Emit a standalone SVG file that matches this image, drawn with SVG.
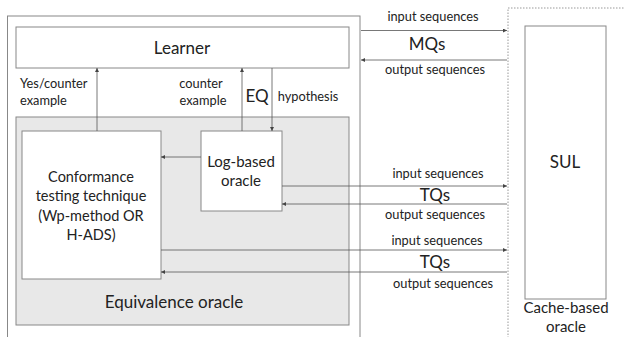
<svg xmlns="http://www.w3.org/2000/svg" width="625" height="337" viewBox="0 0 625 337">
<style>
text{font-family:Lato,"Liberation Sans",sans-serif;fill:#222;text-anchor:middle}
.box{fill:#fff;stroke:#888;stroke-width:1}
.s{font-size:12.8px}
.m{font-size:15px}
.l{font-size:17px}
.c line{stroke:#555;stroke-width:0.8;fill:none}
</style>
<defs>
<marker id="a" viewBox="0 0 6 6" refX="6" refY="3" markerWidth="4" markerHeight="4" orient="auto" markerUnits="userSpaceOnUse"><path d="M0,0L6,3L0,6z" fill="#444"/></marker>
</defs>
<rect width="625" height="337" fill="#fff"/>
<g id="outer"><rect x="7.5" y="16" width="352.5" height="340" fill="none" stroke="#888"/></g>
<g id="cache"><rect x="508" y="8" width="140" height="340" fill="none" stroke="#999" stroke-dasharray="1.5,1.5"/>
<text class="m" x="566" y="313">Cache-based</text><text class="m" x="566" y="332">oracle</text></g>
<g id="learner"><rect class="box" x="16" y="27" width="333" height="41"/><text class="l" x="182" y="54">Learner</text></g>
<g id="eq"><rect x="16" y="117" width="333" height="208" fill="#e8e8e8" stroke="#888"/><text class="l" x="174" y="308">Equivalence oracle</text></g>
<g id="conf"><rect class="box" x="22" y="131" width="139" height="148"/>
<text class="m" x="91" y="182" style="font-size:14.5px">Conformance</text><text class="m" x="91" y="201" style="font-size:14.5px">testing technique</text><text class="m" x="91" y="221" style="font-size:14.5px">(Wp-method OR</text><text class="m" x="91" y="240" style="font-size:14.5px">H-ADS)</text></g>
<g id="log"><rect class="box" x="201" y="131" width="81" height="80"/><text class="m" x="241" y="167">Log-based</text><text class="m" x="241" y="186">oracle</text></g>
<g id="sul"><rect class="box" x="525" y="26" width="81" height="273"/><text class="l" x="565" y="168">SUL</text></g>
<g class="c" id="connectors">
<line x1="97" y1="131" x2="97" y2="68" marker-end="url(#a)"/>
<line x1="242" y1="131" x2="242" y2="68" marker-end="url(#a)"/>
<line x1="272" y1="68" x2="272" y2="131" marker-end="url(#a)"/>
<line x1="201" y1="157" x2="161" y2="157" marker-end="url(#a)"/>
<line x1="361" y1="30.5" x2="507" y2="30.5" marker-end="url(#a)"/>
<line x1="507" y1="60" x2="361" y2="60" marker-end="url(#a)"/>
<line x1="282" y1="186" x2="507" y2="186" marker-end="url(#a)"/>
<line x1="507" y1="204" x2="282" y2="204" marker-end="url(#a)"/>
<line x1="161" y1="250" x2="507" y2="250" marker-end="url(#a)"/>
<line x1="507" y1="272" x2="161" y2="272" marker-end="url(#a)"/>
</g>
<g id="labels">
<text class="s" x="20" y="88" style="text-anchor:start">Yes/counter</text>
<text class="s" x="20" y="105" style="text-anchor:start">example</text>
<text class="s" x="201" y="88">counter</text>
<text class="s" x="203" y="105">example</text>
<text class="l" x="257" y="102">EQ</text>
<text class="s" x="308" y="101">hypothesis</text>
<text class="s" x="433" y="21">input sequences</text>
<text class="l" x="427" y="50">MQs</text>
<text class="s" x="435" y="74">output sequences</text>
<text class="s" x="438" y="178">input sequences</text>
<text class="l" x="435" y="201">TQs</text>
<text class="s" x="435" y="219">output sequences</text>
<text class="s" x="437" y="245">input sequences</text>
<text class="l" x="435" y="268">TQs</text>
<text class="s" x="443" y="288">output sequences</text>
</g>
</svg>
